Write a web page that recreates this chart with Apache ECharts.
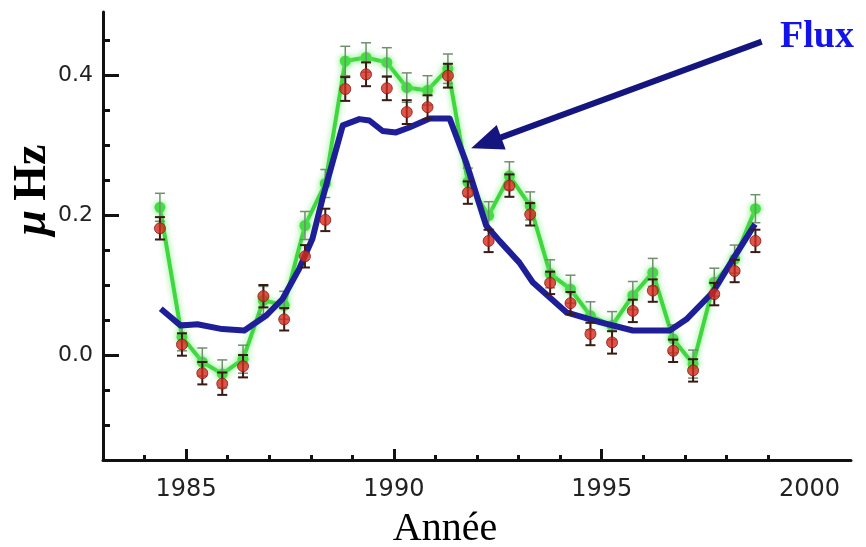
<!DOCTYPE html>
<html>
<head>
<meta charset="utf-8">
<script src="https://cdn.jsdelivr.net/npm/echarts@6/dist/echarts.min.js"></script>
<style>html,body{margin:0;padding:0;background:#fff;}#c{width:866px;height:547px;}</style>
</head>
<body>
<div id="c"></div>
<script>
// ---- data ----
const years = [1984.37, 1984.90, 1985.39, 1985.87, 1986.37, 1986.86, 1987.36, 1987.86, 1988.35, 1988.83,
               1989.33, 1989.83, 1990.31, 1990.81, 1991.30, 1991.78, 1992.28, 1992.78, 1993.28, 1993.76,
               1994.25, 1994.73, 1995.25, 1995.75, 1996.23, 1996.72, 1997.20, 1997.71, 1998.20, 1998.70];
const greenValues = [0.211, 0.026, -0.010, -0.027, -0.006, 0.078, 0.071, 0.185, 0.245, 0.420,
                     0.425, 0.418, 0.382, 0.378, 0.409, 0.247, 0.199, 0.256, 0.213, 0.116,
                     0.094, 0.056, 0.042, 0.085, 0.118, 0.023, -0.013, 0.104, 0.137, 0.209];
const greenErrors = [0.020, 0.020, 0.020, 0.020, 0.020, 0.020, 0.020, 0.020, 0.020, 0.021,
                     0.021, 0.021, 0.021, 0.021, 0.021, 0.020, 0.020, 0.020, 0.020, 0.020,
                     0.020, 0.020, 0.020, 0.020, 0.020, 0.020, 0.020, 0.020, 0.020, 0.020];
const redValues = [0.181, 0.015, -0.026, -0.041, -0.016, 0.084, 0.051, 0.141, 0.193, 0.380,
                   0.401, 0.381, 0.347, 0.354, 0.399, 0.232, 0.163, 0.242, 0.201, 0.103,
                   0.074, 0.030, 0.018, 0.063, 0.092, 0.006, -0.022, 0.087, 0.120, 0.163];
const redErrors = [0.016, 0.016, 0.016, 0.016, 0.016, 0.016, 0.016, 0.016, 0.016, 0.017,
                   0.017, 0.017, 0.017, 0.017, 0.017, 0.016, 0.016, 0.016, 0.016, 0.016,
                   0.016, 0.016, 0.016, 0.016, 0.016, 0.016, 0.016, 0.016, 0.016, 0.016];
const fluxYears = [1984.39, 1984.87, 1985.27, 1985.87, 1986.40, 1986.92, 1987.32, 1987.72, 1988.04, 1988.28,
                   1988.77, 1989.17, 1989.41, 1989.73, 1990.05, 1990.37, 1990.86, 1991.34, 1991.74, 1992.22,
                   1992.54, 1993.02, 1993.34, 1994.15, 1994.95, 1995.75, 1996.64, 1997.04, 1997.68, 1998.16, 1998.69];
const fluxValues = [0.066, 0.042, 0.044, 0.037, 0.035, 0.056, 0.080, 0.123, 0.166, 0.223,
                    0.328, 0.337, 0.335, 0.320, 0.318, 0.325, 0.338, 0.338, 0.275, 0.185,
                    0.163, 0.132, 0.104, 0.061, 0.047, 0.035, 0.035, 0.051, 0.090, 0.137, 0.187];
const xLabelValues = [1985, 1990, 1995, 2000];
const xMajorTicks = [1985, 1990, 1995];
const xMinorTicks = [1984, 1986, 1987, 1988, 1989, 1991, 1992, 1993, 1994, 1996, 1997, 1998, 1999];
const yLabelValues = [0, 0.2, 0.4];
const yMinorTicks = [-0.1, -0.05, 0.05, 0.1, 0.15, 0.25, 0.3, 0.35, 0.45];
const arrowStart = [1998.85, 0.4476];
const arrowEnd = [1992.22, 0.3031];
const fluxLabel = 'Flux';
const xTitle = 'Année';

// ---- chart ----
const chart = echarts.init(document.getElementById('c'));
const zip = (a, b, c) => a.map((v, i) => c ? [v, b[i], c[i]] : [v, b[i]]);

function errRender(color, lw, cap) {
  return function (params, api) {
    const x = api.value(0), y = api.value(1), e = api.value(2);
    const hi = api.coord([x, y + e]);
    const lo = api.coord([x, y - e]);
    const st = { stroke: color, lineWidth: lw };
    return {
      type: 'group',
      children: [
        { type: 'line', shape: { x1: hi[0], y1: hi[1], x2: lo[0], y2: lo[1] }, style: st },
        { type: 'line', shape: { x1: hi[0] - cap, y1: hi[1], x2: hi[0] + cap, y2: hi[1] }, style: st },
        { type: 'line', shape: { x1: lo[0] - cap, y1: lo[1], x2: lo[0] + cap, y2: lo[1] }, style: st }
      ]
    };
  };
}

const axisLineStyle = { color: '#111', width: 3 };
const option = {
  animation: false,
  backgroundColor: '#fff',
  grid: { left: 103, right: 15, top: 12, bottom: 87, containLabel: false },
  xAxis: [
    {
      type: 'value', min: 1983, max: 2001,
      axisLine: { show: true, onZero: false, lineStyle: axisLineStyle },
      axisTick: { show: true, inside: true, length: 11, customValues: xMajorTicks, lineStyle: { color: '#111', width: 3 } },
      axisLabel: { customValues: xLabelValues, fontFamily: 'DejaVu Sans', fontSize: 24, color: '#222', margin: 18,
                   formatter: v => String(v) },
      splitLine: { show: false }
    },
    {
      type: 'value', min: 1983, max: 2001, position: 'bottom', gridIndex: 0,
      axisLine: { show: false, onZero: false },
      axisTick: { show: true, inside: true, length: 5, customValues: xMinorTicks, lineStyle: { color: '#111', width: 3 } },
      axisLabel: { show: false },
      splitLine: { show: false }
    }
  ],
  yAxis: [
    {
      type: 'value', min: -0.15, max: 0.49,
      axisLine: { show: true, onZero: false, lineStyle: axisLineStyle },
      axisTick: { show: true, inside: true, length: 16, customValues: yLabelValues, lineStyle: { color: '#111', width: 3 } },
      axisLabel: { customValues: yLabelValues, fontFamily: 'DejaVu Sans', fontSize: 22, color: '#222', margin: 10,
                   formatter: v => v.toFixed(1) },
      splitLine: { show: false }
    },
    {
      type: 'value', min: -0.15, max: 0.49, position: 'left', gridIndex: 0,
      axisLine: { show: false, onZero: false },
      axisTick: { show: true, inside: true, length: 7, customValues: yMinorTicks, lineStyle: { color: '#111', width: 3 } },
      axisLabel: { show: false },
      splitLine: { show: false }
    }
  ],
  series: [
    {
      type: 'line', name: 'green', xAxisIndex: 0, yAxisIndex: 0, z: 2,
      data: zip(years, greenValues),
      symbol: 'circle', symbolSize: 11,
      lineStyle: { color: '#3ed83e', width: 4, shadowColor: 'rgba(120,235,120,0.9)', shadowBlur: 6 },
      itemStyle: { color: '#45dd45', shadowColor: 'rgba(120,235,120,0.9)', shadowBlur: 6 }
    },
    {
      type: 'custom', name: 'greenErr', xAxisIndex: 0, yAxisIndex: 0, z: 3,
      data: zip(years, greenValues, greenErrors),
      encode: { x: 0, y: 1 },
      renderItem: errRender('#6f8f6f', 1.5, 5)
    },
    {
      type: 'line', name: 'Flux', xAxisIndex: 0, yAxisIndex: 0, z: 4,
      data: zip(fluxYears, fluxValues),
      symbol: 'none',
      lineStyle: { color: '#1e1e98', width: 6, cap: 'butt', join: 'round' },
      markLine: {
        silent: true, animation: false,
        symbol: ['none', 'triangle'], symbolSize: [26, 32],
        label: { show: false },
        lineStyle: { color: '#15157f', width: 6, type: 'solid' },
        itemStyle: { color: '#15157f' },
        data: [[{ coord: arrowStart }, { coord: arrowEnd }]]
      }
    },
    {
      type: 'custom', name: 'redErr', xAxisIndex: 0, yAxisIndex: 0, z: 5,
      data: zip(years, redValues, redErrors),
      encode: { x: 0, y: 1 },
      renderItem: errRender('#3a1a14', 2, 5)
    },
    {
      type: 'scatter', name: 'red', xAxisIndex: 0, yAxisIndex: 0, z: 6,
      data: zip(years, redValues),
      symbol: 'circle', symbolSize: 11,
      itemStyle: { color: '#d42a1e', borderColor: '#8a1a12', borderWidth: 1 }
    }
  ],
  graphic: [
    {
      type: 'text', x: 780, y: 37, z: 10,
      style: { text: fluxLabel, font: 'bold 38px "Liberation Serif", serif', fill: '#1414e8',
               align: 'left', verticalAlign: 'middle' }
    },
    {
      type: 'text', x: 445, y: 529, z: 10,
      style: { text: xTitle, font: '40px "Liberation Serif", serif', fill: '#000',
               align: 'center', verticalAlign: 'middle' }
    },
    {
      type: 'text', x: 33, y: 190, rotation: Math.PI / 2, z: 10,
      style: {
        text: '{m|μ}{h|\u2009Hz}',
        align: 'center', verticalAlign: 'middle',
        rich: {
          m: { font: 'italic bold 46px "Liberation Serif", serif', fill: '#000' },
          h: { font: 'bold 46px "Liberation Serif", serif', fill: '#000' }
        }
      }
    }
  ]
};
chart.setOption(option);
</script>
</body>
</html>
